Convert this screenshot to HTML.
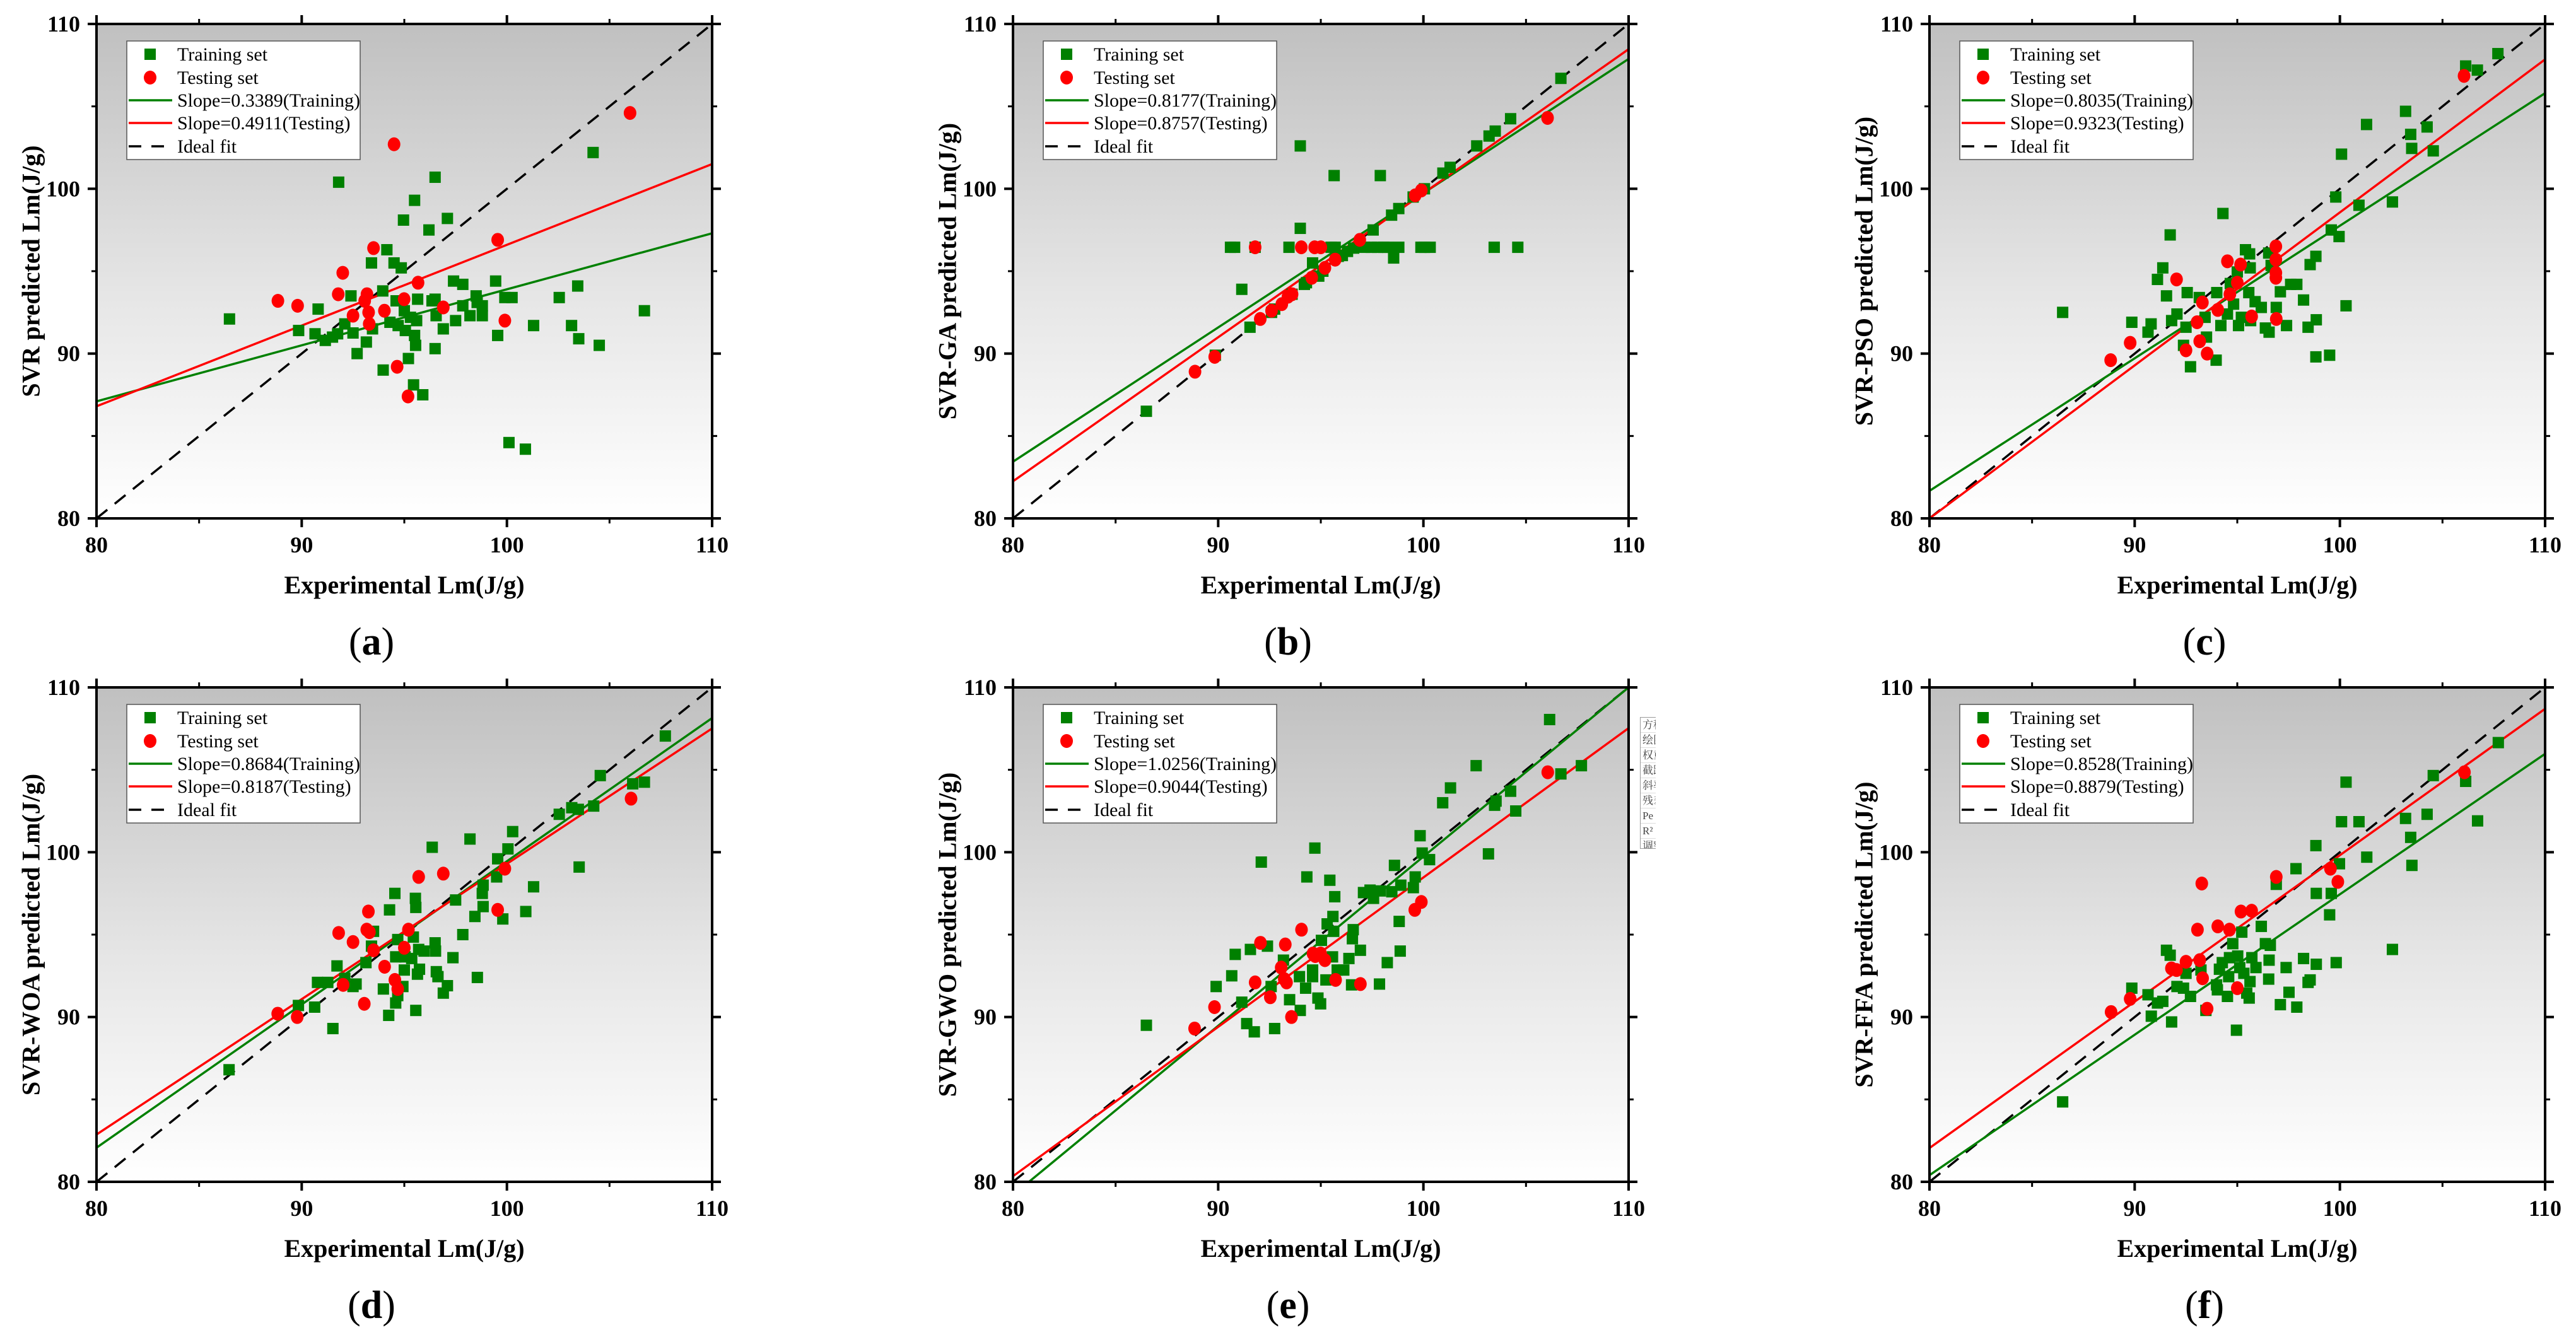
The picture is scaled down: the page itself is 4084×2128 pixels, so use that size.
<!DOCTYPE html>
<html>
<head>
<meta charset="utf-8">
<style>
  html,body{margin:0;padding:0;background:#fff;}
  #wrap{position:relative;width:4084px;height:2128px;overflow:hidden;background:#fff;}
  svg{position:absolute;left:0;top:0;}
  #odd-box{position:absolute;left:2600px;top:1137px;width:24px;height:207px;border:1px solid #999;border-right:none;overflow:hidden;background:#fff;
    font-family:"Liberation Serif","Noto Serif CJK SC","Noto Sans CJK SC",serif;font-size:17px;color:#444;}
  #odd-box div{height:23px;line-height:23px;border-bottom:1px solid #ddd;padding-left:3px;white-space:nowrap;}
</style>
</head>
<body>
<div id="wrap">
<svg id="fig" width="4084" height="2128" viewBox="0 0 4084 2128" xmlns="http://www.w3.org/2000/svg">
  <defs>
    <linearGradient id="bg" x1="0" y1="0" x2="0" y2="1">
      <stop offset="0" stop-color="#c0c0c0"/>
      <stop offset="0.55" stop-color="#e6e6e6"/>
      <stop offset="1" stop-color="#ffffff"/>
    </linearGradient>
  </defs>
</svg>
<div id="odd-box">
  <div>方程</div><div>绘图</div><div>权重</div><div>截距</div><div>斜率</div><div>残差</div><div>Pe</div><div>R²</div><div>调整</div>
</div>
</div>
<script>
// ---------- data ----------
const aTrain = [[86.48,92.1],[89.85,91.4],[90.65,91.2],[90.8,92.7],[91.15,90.8],[91.5,91.0],[91.75,91.2],[91.8,100.4],[92.1,91.8],[92.4,93.5],[92.5,91.25],[92.7,90.0],[93.15,90.7],[93.4,95.5],[93.45,91.5],[93.95,93.8],[93.97,89.0],[94.15,96.3],[94.3,91.9],[94.5,95.5],[94.6,93.2],[94.7,91.7],[94.85,95.2],[94.96,98.1],[95.0,92.6],[95.05,91.4],[95.2,89.7],[95.3,92.2],[95.45,88.1],[95.5,91.1],[95.5,99.3],[95.55,90.5],[95.6,92.0],[95.65,93.3],[95.9,87.5],[96.2,97.5],[96.35,93.2],[96.5,100.7],[96.5,90.3],[96.5,93.3],[96.55,92.3],[96.9,91.5],[97.1,98.2],[97.4,94.4],[97.5,92.0],[97.85,94.2],[97.85,92.9],[98.2,92.3],[98.5,93.5],[98.55,93.1],[98.8,92.3],[98.8,92.9],[99.45,94.4],[99.55,91.1],[99.9,93.4],[100.1,84.6],[100.25,93.4],[100.9,84.2],[101.3,91.7],[102.55,93.4],[103.15,91.7],[103.45,94.1],[103.5,90.9],[104.2,102.2],[104.5,90.5],[106.7,92.6]];
const aTest = [[88.84,93.2],[89.8,92.9],[91.78,93.6],[92.0,94.9],[92.5,92.3],[93.07,93.2],[93.18,93.6],[93.26,92.5],[93.29,91.8],[93.5,96.4],[94.03,92.6],[94.5,102.7],[94.65,89.2],[94.99,93.3],[95.18,87.4],[95.67,94.3],[96.9,92.8],[99.55,96.9],[99.9,92.0],[106.0,104.6]];
const bTrain = [[86.5,86.5],[89.86,89.9],[91.15,93.9],[91.55,91.6],[90.6,96.45],[90.8,96.45],[91.8,96.45],[93.45,96.45],[94.0,102.6],[94.0,97.6],[94.2,94.2],[94.6,95.5],[94.9,94.7],[95.1,95.0],[95.5,96.45],[95.65,100.8],[95.7,96.45],[95.85,95.9],[96.05,95.95],[96.3,96.2],[96.6,96.4],[96.9,96.7],[97.13,96.45],[97.46,96.45],[97.76,96.45],[98.07,96.45],[98.26,96.45],[97.55,97.5],[97.9,100.8],[98.45,98.4],[98.55,95.8],[98.8,96.45],[98.8,98.8],[99.5,99.5],[99.88,96.45],[100.05,96.45],[100.33,96.45],[100.05,100.0],[100.95,100.95],[101.3,101.3],[102.6,102.6],[103.2,103.2],[103.5,103.5],[103.45,96.45],[104.25,104.25],[104.6,96.45],[106.7,106.7],[92.6,92.5],[92.75,92.7],[93.6,93.6],[94.3,94.3]];
const bTest = [[88.87,88.9],[89.83,89.8],[91.8,96.45],[92.05,92.1],[92.6,92.6],[93.1,93.0],[93.4,93.45],[93.6,93.6],[94.05,96.45],[94.56,94.6],[94.7,96.45],[95.0,96.45],[95.2,95.2],[95.7,95.7],[96.9,96.9],[99.6,99.6],[99.9,99.9],[106.05,104.3]];
const cTrain = [[86.49,92.5],[89.86,91.9],[90.65,91.3],[90.8,91.8],[91.11,94.5],[91.37,95.2],[91.55,93.5],[91.73,97.2],[91.8,92.0],[92.06,92.4],[92.38,90.5],[92.5,91.6],[92.56,93.7],[92.72,89.2],[93.15,93.4],[93.43,92.2],[93.5,91.0],[94.0,93.7],[93.97,89.6],[94.2,91.7],[94.3,98.5],[94.52,92.4],[94.66,94.25],[94.82,93.0],[95.0,94.95],[95.06,91.7],[95.2,92.2],[95.4,96.3],[95.56,93.7],[95.6,96.05],[95.63,95.2],[95.65,92.0],[95.87,93.15],[96.17,92.8],[96.37,91.55],[96.53,96.1],[96.55,91.3],[96.65,95.35],[96.9,92.8],[97.1,93.75],[97.4,91.7],[97.6,94.2],[97.9,94.2],[98.23,93.25],[98.45,91.6],[98.55,95.4],[98.83,95.9],[98.83,89.8],[98.85,92.05],[99.5,89.9],[99.58,97.5],[99.8,99.5],[99.96,97.1],[100.08,102.1],[100.3,92.9],[100.93,99.0],[101.3,103.9],[102.56,99.2],[103.2,104.7],[103.45,103.3],[103.5,102.45],[104.25,103.75],[104.55,102.3],[106.13,107.45],[106.7,107.2],[107.7,108.2]];
const cTest = [[88.83,89.6],[89.78,90.65],[92.04,94.5],[92.5,90.2],[93.04,91.9],[93.17,90.75],[93.3,93.1],[93.53,90.0],[94.05,92.65],[94.52,95.6],[94.64,93.6],[95.0,94.3],[95.16,95.4],[95.7,92.25],[96.88,96.5],[96.88,95.7],[96.88,94.9],[96.88,94.6],[96.9,92.1],[106.05,106.85]];
const dTrain = [[86.46,86.8],[89.84,90.7],[90.63,90.6],[90.77,92.1],[91.27,92.1],[91.52,89.3],[91.72,93.1],[92.1,92.35],[92.5,91.85],[92.65,92.0],[93.13,93.3],[93.4,94.3],[93.5,95.2],[93.98,91.7],[94.24,90.1],[94.28,96.5],[94.54,97.5],[94.58,90.85],[94.58,93.65],[94.68,91.3],[94.68,94.7],[94.93,91.85],[95.0,92.85],[95.04,93.65],[95.36,93.55],[95.44,94.85],[95.54,97.2],[95.56,96.65],[95.56,90.4],[95.64,92.6],[95.74,92.9],[95.7,94.1],[95.96,94.0],[96.36,100.3],[96.5,94.5],[96.52,94.0],[96.56,92.75],[96.64,92.45],[96.9,91.45],[97.1,91.9],[97.37,93.6],[97.5,97.1],[97.85,95.0],[98.2,100.8],[98.44,96.1],[98.56,92.4],[98.8,97.5],[98.84,96.7],[98.84,98.0],[99.5,98.5],[99.55,99.6],[99.8,95.95],[100.05,100.2],[100.28,101.25],[100.92,96.4],[101.3,97.9],[102.55,102.3],[103.16,102.7],[103.48,102.6],[103.52,99.1],[104.23,102.8],[104.55,104.65],[106.13,104.15],[106.7,104.25],[107.72,107.05]];
const dTest = [[88.83,90.2],[89.78,90.0],[91.8,95.1],[92.02,91.95],[92.5,94.55],[93.05,90.8],[93.17,95.3],[93.25,96.4],[93.3,95.15],[93.5,94.05],[94.04,93.05],[94.54,92.25],[94.68,91.7],[95.0,94.2],[95.2,95.3],[95.7,98.5],[96.9,98.7],[99.55,96.5],[99.9,99.0],[106.05,103.25]];
const eTrain = [[86.5,89.5],[89.9,91.85],[90.66,92.5],[90.83,93.8],[91.15,90.9],[91.39,89.6],[91.57,94.1],[91.76,89.1],[92.1,99.4],[92.4,94.3],[92.75,89.3],[92.58,91.85],[93.18,93.45],[93.48,91.05],[94.0,90.4],[93.96,92.45],[94.26,91.75],[94.32,98.5],[94.6,92.85],[94.6,92.45],[94.71,100.25],[94.86,91.15],[94.99,90.8],[95.03,94.65],[95.25,92.25],[95.31,95.65],[95.44,98.3],[95.57,93.65],[95.59,96.1],[95.63,95.2],[95.68,97.3],[95.8,92.85],[96.12,92.85],[96.37,93.55],[96.5,91.95],[96.54,94.75],[96.58,95.3],[96.93,94.05],[97.08,97.55],[97.4,97.7],[97.57,97.2],[97.9,97.65],[97.86,92.0],[98.24,93.3],[98.46,97.6],[98.59,99.2],[98.82,95.8],[98.87,94.0],[98.9,98.0],[99.51,97.85],[99.6,98.5],[99.84,101.0],[99.94,99.95],[100.3,99.55],[100.94,103.0],[101.32,103.9],[102.57,105.25],[103.17,99.9],[103.47,102.85],[103.54,103.1],[104.25,103.7],[104.5,102.5],[106.15,108.05],[106.7,104.75],[107.7,105.25]];
const eTest = [[88.85,89.3],[89.82,90.6],[91.8,92.1],[92.06,94.5],[92.54,91.2],[93.07,93.0],[93.27,94.4],[93.22,92.3],[93.33,92.1],[93.57,90.0],[94.06,95.3],[94.62,93.85],[94.73,93.7],[94.99,93.85],[95.2,93.45],[95.72,92.25],[96.93,92.0],[99.58,96.5],[99.9,96.98],[106.06,104.85]];
const fTrain = [[86.49,84.85],[89.86,91.75],[90.65,91.35],[90.81,90.05],[91.11,90.85],[91.37,90.95],[91.55,94.05],[91.73,93.75],[91.8,89.7],[92.06,91.85],[92.38,91.75],[92.5,92.65],[92.72,91.25],[93.23,92.85],[93.47,90.4],[93.99,91.95],[94.03,91.65],[94.13,92.9],[94.27,93.3],[94.52,91.25],[94.58,92.45],[94.62,93.6],[94.78,94.45],[94.96,89.2],[95.02,93.7],[95.12,93.0],[95.22,95.15],[95.32,92.65],[95.46,91.45],[95.58,91.15],[95.62,92.15],[95.71,93.6],[95.91,93.0],[96.17,95.5],[96.37,94.45],[96.53,92.3],[96.55,93.45],[96.61,94.35],[96.9,98.05],[97.1,90.75],[97.38,93.0],[97.52,91.5],[97.86,99.0],[97.9,90.6],[98.23,93.55],[98.45,92.1],[98.55,92.25],[98.83,100.4],[98.85,97.5],[98.85,93.2],[99.5,96.2],[99.58,97.5],[99.82,93.3],[99.98,99.3],[100.08,101.85],[100.3,104.25],[100.93,101.85],[101.31,99.7],[102.56,94.1],[103.2,102.05],[103.45,100.9],[103.51,99.2],[104.25,102.3],[104.55,104.65],[106.13,104.3],[106.71,101.9],[107.72,106.65]];
const fTest = [[88.85,90.3],[89.78,91.1],[91.79,92.95],[92.04,92.85],[92.5,93.35],[93.06,95.3],[93.17,93.45],[93.27,98.1],[93.31,92.35],[93.53,90.5],[94.05,95.5],[94.62,95.3],[95.0,91.75],[95.18,96.4],[95.7,96.45],[96.9,98.5],[99.54,99.0],[99.9,98.2],[106.07,104.85]];
// fitted-line values at x=80 and x=110
const aFitTrain = [87.1, 97.3];   const aFitTest = [86.8, 101.5];
const bFitTrain = [83.44, 107.88]; const bFitTest = [82.25, 108.47];
const cFitTrain = [81.67, 105.8];  const cFitTest = [80.0, 107.85];
const dFitTrain = [82.07, 108.14]; const dFitTest = [82.87, 107.51];
const eFitTrain = [79.2, 110.0];   const eFitTest = [80.34, 107.53];
const fFitTrain = [80.4, 105.97];  const fFitTest = [82.05, 108.7];
const slopeTrainLabels = ["0.3389","0.8177","0.8035","0.8684","1.0256","0.8528"];
const slopeTestLabels  = ["0.4911","0.8757","0.9323","0.8187","0.9044","0.8879"];
const yTitles = ["SVR predicted Lm(J/g)","SVR-GA predicted Lm(J/g)","SVR-PSO predicted Lm(J/g)","SVR-WOA predicted Lm(J/g)","SVR-GWO predicted Lm(J/g)","SVR-FFA predicted Lm(J/g)"];
const panelLetters = ["a","b","c","d","e","f"];
const majorTicks = [80, 90, 100, 110];
const minorTicks = [85, 95, 105];
const axisMin = 80, axisMax = 110;

// ---------- drawing ----------
const NS = "http://www.w3.org/2000/svg";
const svg = document.getElementById("fig");
const SERIF = '"Liberation Serif", serif';
function el(tag, attrs, parent) {
  const e = document.createElementNS(NS, tag);
  for (const k in attrs) e.setAttribute(k, attrs[k]);
  (parent || svg).appendChild(e);
  return e;
}
const W = 976, H = 784;
const lefts = [153, 1606, 3059];
const tops = [38, 1090];
const trains = [aTrain,bTrain,cTrain,dTrain,eTrain,fTrain];
const tests = [aTest,bTest,cTest,dTest,eTest,fTest];
const fitTrains = [aFitTrain,bFitTrain,cFitTrain,dFitTrain,eFitTrain,fFitTrain];
const fitTests = [aFitTest,bFitTest,cFitTest,dFitTest,eFitTest,fFitTest];

for (let p = 0; p < 6; p++) {
  const L = lefts[p % 3], T = tops[Math.floor(p / 3)];
  const sx = v => L + (v - axisMin) / (axisMax - axisMin) * W;
  const sy = v => T + H - (v - axisMin) / (axisMax - axisMin) * H;
  const g = el("g", {});
  
  

  const bg = el("rect", {x:L, y:T, width:W, height:H, fill:"url(#bg)"}, g);
  
  

  const cpId = "clip" + p;
  const cp = el("clipPath", {id: cpId}, g);
  el("rect", {x:L, y:T, width:W, height:H}, cp);
  const plot = el("g", {"clip-path": "url(#" + cpId + ")"}, g);

  const ideal = el("line", {x1:sx(80), y1:sy(80), x2:sx(110), y2:sy(110), stroke:"#000", "stroke-width":3.5, "stroke-dasharray":"22 15"}, plot);
  
  

  const ft = fitTrains[p], fs = fitTests[p];
  const gl = el("line", {x1:sx(80), y1:sy(ft[0]), x2:sx(110), y2:sy(ft[1]), stroke:"#008000", "stroke-width":3.5}, plot);
  
  
  const rl = el("line", {x1:sx(80), y1:sy(fs[0]), x2:sx(110), y2:sy(fs[1]), stroke:"#ff0000", "stroke-width":3.5}, plot);
  
  

  trains[p].forEach(d => {
    const r = el("rect", {x:sx(d[0]) - 9, y:sy(d[1]) - 9, width:18, height:18, fill:"#008000"}, plot);
    
    
  });
  tests[p].forEach(d => {
    const c = el("ellipse", {cx:sx(d[0]), cy:sy(d[1]), rx:10, ry:11, fill:"#ff0000"}, plot);
    
    
  });

  // frame
  const frame = el("rect", {x:L, y:T, width:W, height:H, fill:"none", stroke:"#000", "stroke-width":4}, g);
  
  

  // ticks
  majorTicks.forEach(v => {
    el("line", {x1:sx(v), y1:T+H, x2:sx(v), y2:T+H+14, stroke:"#000", "stroke-width":4}, g);
    el("line", {x1:sx(v), y1:T, x2:sx(v), y2:T-14, stroke:"#000", "stroke-width":4}, g);
    el("line", {x1:L, y1:sy(v), x2:L-14, y2:sy(v), stroke:"#000", "stroke-width":4}, g);
    el("line", {x1:L+W, y1:sy(v), x2:L+W+14, y2:sy(v), stroke:"#000", "stroke-width":4}, g);
    const xt = el("text", {x:sx(v), y:T+H+54, "text-anchor":"middle", "font-family":SERIF, "font-size":36, "font-weight":"bold"}, g);
    xt.textContent = v;
    
    
    const yt = el("text", {x:L-26, y:sy(v)+12, "text-anchor":"end", "font-family":SERIF, "font-size":36, "font-weight":"bold"}, g);
    yt.textContent = v;
    
    
  });
  minorTicks.forEach(v => {
    el("line", {x1:sx(v), y1:T+H, x2:sx(v), y2:T+H+8, stroke:"#000", "stroke-width":3}, g);
    el("line", {x1:sx(v), y1:T, x2:sx(v), y2:T-8, stroke:"#000", "stroke-width":3}, g);
    el("line", {x1:L, y1:sy(v), x2:L-8, y2:sy(v), stroke:"#000", "stroke-width":3}, g);
    el("line", {x1:L+W, y1:sy(v), x2:L+W+8, y2:sy(v), stroke:"#000", "stroke-width":3}, g);
  });

  // titles
  const xTitle = el("text", {x:L + W/2, y:T+H+119, "text-anchor":"middle", "font-family":SERIF, "font-size":40, "font-weight":"bold"}, g);
  xTitle.textContent = "Experimental Lm(J/g)";
  
  
  const yx = L - 104, yy = T + H/2;
  const yTitle = el("text", {x:yx, y:yy, transform:"rotate(-90 " + yx + " " + yy + ")", "text-anchor":"middle", "dominant-baseline":"central", "font-family":SERIF, "font-size":40, "font-weight":"bold"}, g);
  yTitle.textContent = yTitles[p];
  
  
  const pl = el("text", {x:L + W/2 - 52, y:T+H+216, "text-anchor":"middle", "font-family":SERIF, "font-size":62}, g);
  pl.innerHTML = '(<tspan font-weight="bold">' + panelLetters[p] + '</tspan>)';
  
  

  // legend
  const lx = L + 48, ly = T + 27;
  const lg = el("g", {}, g);
  
  
  el("rect", {x:lx, y:ly, width:370, height:188, fill:"#fff", stroke:"#555", "stroke-width":1.5}, lg);
  const rows = [21, 58, 94, 130, 167].map(v => ly + v);
  el("rect", {x:lx+37-9, y:rows[0]-9, width:18, height:18, fill:"#008000"}, lg);
  el("ellipse", {cx:lx+37, cy:rows[1], rx:10, ry:11, fill:"#ff0000"}, lg);
  el("line", {x1:lx+3, y1:rows[2], x2:lx+72, y2:rows[2], stroke:"#008000", "stroke-width":3.5}, lg);
  el("line", {x1:lx+3, y1:rows[3], x2:lx+72, y2:rows[3], stroke:"#ff0000", "stroke-width":3.5}, lg);
  el("line", {x1:lx+3, y1:rows[4], x2:lx+66, y2:rows[4], stroke:"#000", "stroke-width":3.5, "stroke-dasharray":"20 16"}, lg);
  const labels = ["Training set", "Testing set", "Slope=" + slopeTrainLabels[p] + "(Training)", "Slope=" + slopeTestLabels[p] + "(Testing)", "Ideal fit"];
  labels.forEach((t, i) => {
    const tx = el("text", {x:lx+80, y:rows[i]+10, "font-family":SERIF, "font-size":30}, lg);
    tx.textContent = t;
    
    
  });
}
</script>
</body>
</html>
